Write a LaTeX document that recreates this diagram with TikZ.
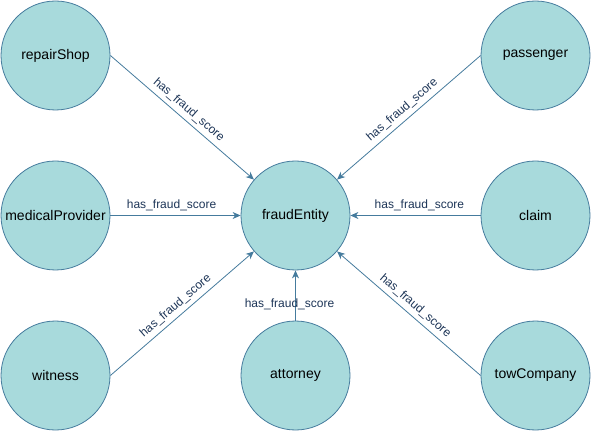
\documentclass[tikz,border=0pt]{standalone}
\usepackage{fontspec}
\setmainfont{Liberation Sans}
\usetikzlibrary{arrows.meta}
\definecolor{nodefill}{HTML}{A8DADC}
\definecolor{nodeline}{HTML}{457B9D}
\definecolor{labeltext}{HTML}{1D3557}
\begin{document}
\begin{tikzpicture}[x=1pt,y=1pt,
  entity/.style={circle,draw=nodeline,fill=nodefill,minimum size=109pt,inner sep=0pt,
    font=\fontsize{14}{16}\selectfont,text=black,line width=0.8pt},
  rel/.style={draw=nodeline,line width=0.8pt,-{Stealth[length=8pt,width=7pt,inset=2.5pt]}},
  lbl/.style={font=\fontsize{12}{14}\selectfont,text=labeltext,inner sep=2pt}]
\useasboundingbox (0,0) rectangle (591,431);
\node[entity] (rs) at (55.5,375.5) {repairShop};
\node[entity] (pa) at (535.5,375.5) {passenger};
\node[entity] (mp) at (55.5,215.5) {medicalProvider};
\node[entity] (fe) at (295.5,215.5) {fraudEntity};
\node[entity] (cl) at (535.5,215.5) {claim};
\node[entity] (wi) at (55.5,55.5) {witness};
\node[entity] (at) at (295.5,55.5) {attorney};
\node[entity] (tc) at (535.5,55.5) {towCompany};
\draw[rel] (rs.east) -- node[lbl,sloped,above=2pt,pos=0.5] {has\_fraud\_score} (fe);
\draw[rel] (pa.west) -- node[lbl,sloped,above=2pt,pos=0.5] {has\_fraud\_score} (fe);
\draw[rel] (mp.east) -- node[lbl,above=2pt,pos=0.47] {has\_fraud\_score} (fe);
\draw[rel] (cl.west) -- node[lbl,above=2pt,pos=0.47] {has\_fraud\_score} (fe);
\draw[rel] (wi.east) -- node[lbl,sloped,above=2pt,pos=0.5] {has\_fraud\_score} (fe);
\draw[rel] (tc.west) -- node[lbl,sloped,above=2pt,pos=0.5] {has\_fraud\_score} (fe);
\draw[rel] (at.north) -- node[lbl,pos=0.32,xshift=-6pt] {has\_fraud\_score} (fe);
\end{tikzpicture}
\end{document}
